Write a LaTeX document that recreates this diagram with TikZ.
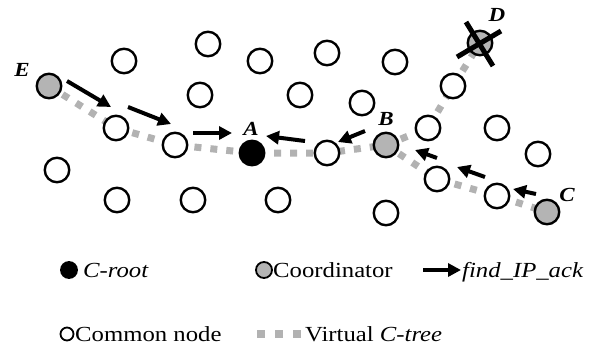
\documentclass[tikz,border=0pt]{standalone}
\usepackage{fontspec}
\usepackage{graphicx}
\setmainfont{Liberation Serif}
\usetikzlibrary{arrows.meta}
\definecolor{grayfill}{RGB}{180,180,180}
\definecolor{treegray}{RGB}{178,178,178}
\newcommand{\wide}[1]{\scalebox{1.15}[1]{#1}}
\tikzset{
  nd/.style={circle,draw=black,line width=2.4pt,fill=white,minimum size=24.5pt,inner sep=0pt},
  coord/.style={nd,fill=grayfill},
  root/.style={nd,fill=black},
  lbl/.style={font=\fontsize{20}{20}\selectfont\bfseries\itshape,inner sep=0pt},
  tree/.style={draw=treegray,line width=7pt,dash pattern=on 7pt off 9pt},
  msg/.style={line width=4pt,-{Triangle[length=13pt,width=13pt]}},
  legtxt/.style={font=\fontsize{21.5}{21.5}\selectfont,inner sep=0pt,anchor=base west},
  legdot/.style={circle,draw=black,line width=1.8pt,minimum size=16pt,inner sep=0pt},
  cross/.style={line width=5pt,line cap=butt}
}
\begin{document}
\begin{tikzpicture}[x=1pt,y=-1pt]
\useasboundingbox (0,0) rectangle (605,349);
% coordinates for nodes
\coordinate (pE) at (49,86);
\coordinate (pA) at (252,153);
\coordinate (pB) at (386,145);
\coordinate (pC) at (547,212);
\coordinate (pD) at (480,43);
\coordinate (p10) at (116,128);
\coordinate (p11) at (175,145);
\coordinate (p12) at (327,153);
\coordinate (p13) at (428,128);
\coordinate (p8) at (453,86);
\coordinate (p16) at (437,179);
\coordinate (p17) at (497,196);
% virtual C-tree
\draw[tree] (pE) -- (p10) -- (p11) -- (pA) -- (p12) -- (pB) -- (p16) -- (p17) -- (pC);
\draw[tree] (pB) -- (p13) -- (p8) -- (pD);
% nodes
\node[coord] (E) at (pE) {};
\node[root] (A) at (pA) {};
\node[coord] (B) at (pB) {};
\node[coord] (C) at (pC) {};
\node[coord] (D) at (pD) {};
\node[nd] (n10) at (p10) {};
\node[nd] (n11) at (p11) {};
\node[nd] (n12) at (p12) {};
\node[nd] (n13) at (p13) {};
\node[nd] (n8) at (p8) {};
\node[nd] (n16) at (p16) {};
\node[nd] (n17) at (p17) {};
\node[nd] (n1) at (124,61) {};
\node[nd] (n2) at (208,44) {};
\node[nd] (n3) at (260,61) {};
\node[nd] (n4) at (200,95) {};
\node[nd] (n5) at (300,95) {};
\node[nd] (n6) at (327,53) {};
\node[nd] (n7) at (395,62) {};
\node[nd] (n9) at (362,103) {};
\node[nd] (n14) at (497,128) {};
\node[nd] (n15) at (538,154) {};
\node[nd] (n18) at (386,213) {};
\node[nd] (n19) at (57,170) {};
\node[nd] (n20) at (117,200) {};
\node[nd] (n21) at (193,200) {};
\node[nd] (n22) at (278,200) {};
% cross on D
\coordinate (x1a) at (466,22); \coordinate (x1b) at (493,66);
\coordinate (x2a) at (457,57); \coordinate (x2b) at (501,31);
\draw[cross] (x1a) -- (x1b);
\draw[cross] (x2a) -- (x2b);
% labels
\node[lbl] (lE) at (22,70) {\wide{E}};
\node[lbl] (lA) at (251,129) {\wide{A}};
\node[lbl] (lB) at (386,119) {\wide{B}};
\node[lbl] (lC) at (567,195) {\wide{C}};
\node[lbl] (lD) at (497,15) {\wide{D}};
% find_IP_ack arrows
\coordinate (a1s) at (67,81);  \coordinate (a1e) at (111,107);
\coordinate (a2s) at (128,107); \coordinate (a2e) at (171,124);
\coordinate (a3s) at (193,133); \coordinate (a3e) at (232,133);
\coordinate (a4s) at (305,141); \coordinate (a4e) at (266,136);
\coordinate (a5s) at (365,131); \coordinate (a5e) at (338,142);
\coordinate (a6s) at (437,158); \coordinate (a6e) at (415,150);
\coordinate (a7s) at (485,177); \coordinate (a7e) at (457,167);
\coordinate (a8s) at (536,194); \coordinate (a8e) at (513,189);
\draw[msg] (a1s) -- (a1e);
\draw[msg] (a2s) -- (a2e);
\draw[msg] (a3s) -- (a3e);
\draw[msg] (a4s) -- (a4e);
\draw[msg] (a5s) -- (a5e);
\draw[msg] (a6s) -- (a6e);
\draw[msg] (a7s) -- (a7e);
\draw[msg] (a8s) -- (a8e);
% legend
\node[legdot,fill=black] (L1) at (69,270) {};
\node[legtxt] (T1) at (83,277) {\wide{\itshape C-root}};
\node[legdot,fill=grayfill] (L2) at (264,270) {};
\node[legtxt] (T2) at (273,277) {\wide{Coordinator}};
\coordinate (L3s) at (423,270); \coordinate (L3e) at (461,270);
\draw[msg] (L3s) -- (L3e);
\node[legtxt] (T3) at (462,277) {\wide{\itshape find\_IP\_ack}};
\node[legdot,fill=white,minimum size=13pt] (L4) at (67,334) {};
\node[legtxt] (T4) at (75,341) {\wide{Common node}};
\coordinate (L5s) at (257,334); \coordinate (L5e) at (302,334);
\draw[draw=treegray,line width=8pt,dash pattern=on 8pt off 10pt] (L5s) -- (L5e);
\node[legtxt] (T5) at (305,341) {\wide{Virtual \textit{C-tree}}};
\end{tikzpicture}
\end{document}
